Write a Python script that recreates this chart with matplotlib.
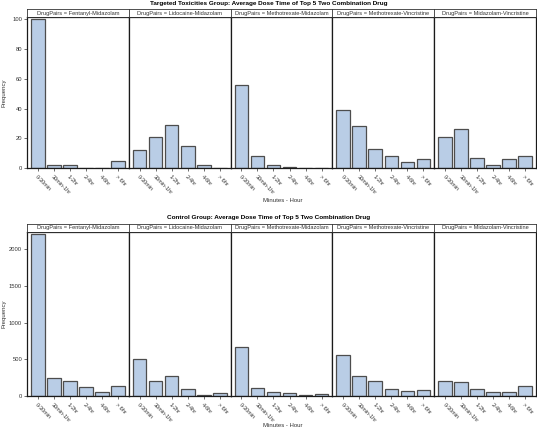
import numpy as np
import matplotlib.pyplot as plt

plt.rcParams["font.family"] = ["Liberation Sans", "DejaVu Sans"]

# categories and panels
bins = ["0-30min", "30min-1hr", "1-2hr", "2-4hr", "4-6hr", "> 6hr"]
pairs = ["Fentanyl-Midazolam", "Lidocaine-Midazolam", "Methotrexate-Midazolam",
         "Methotrexate-Vincristine", "Midazolam-Vincristine"]

# Targeted toxicities group frequencies (one list per drug pair)
tox_fent_mid = [100, 2, 2, 0, 0, 5]
tox_lido_mid = [12, 21, 29, 15, 2, 0]
tox_mtx_mid = [56, 8, 2, 1, 0, 0]
tox_mtx_vin = [39, 28, 13, 8, 4, 6]
tox_mid_vin = [21, 26, 7, 2, 6, 8]

# Control group frequencies
ctl_fent_mid = [2210, 250, 210, 118, 50, 141]
ctl_lido_mid = [500, 209, 277, 91, 18, 36]
ctl_mtx_mid = [663, 109, 58, 36, 14, 23]
ctl_mtx_vin = [564, 268, 209, 100, 64, 82]
ctl_mid_vin = [200, 186, 100, 55, 59, 136]

tox = [tox_fent_mid, tox_lido_mid, tox_mtx_mid, tox_mtx_vin, tox_mid_vin]
ctl = [ctl_fent_mid, ctl_lido_mid, ctl_mtx_mid, ctl_mtx_vin, ctl_mid_vin]

W, H = 537, 428
fig = plt.figure(figsize=(W / 100, H / 100), dpi=100)

bar_fill = "#B9CDE6"
bar_edge = "#4d4d4d"


def px_axes(x0, y0, x1, y1):
    # pixel box (top-left origin) -> figure axes
    return fig.add_axes([x0 / W, 1 - y1 / H, (x1 - x0) / W, (y1 - y0) / H])


def draw_group(data, title, y_title, y_strip, y_top, y_bot, ymax, yticks, y_xlabel):
    left, right = 27, 536
    pw = (right - left) / len(pairs)
    x = np.arange(len(bins))
    for i, (name, vals) in enumerate(zip(pairs, data)):
        x0 = left + i * pw
        ax = px_axes(x0, y_top, x0 + pw, y_bot)
        ax.bar(x, vals, width=0.85, color=bar_fill, edgecolor=bar_edge, linewidth=0.9)
        ax.set_xlim(-0.68, 5.68)
        ax.set_ylim(0, ymax)
        ax.set_xticks(x)
        ax.set_xticklabels(bins, rotation=-45, ha="left", va="top",
                           rotation_mode="anchor", fontsize=4, color="#333333")
        ax.tick_params(axis="x", length=2, width=0.5, pad=2.5, colors="#333333")
        if i == 0:
            ax.set_yticks(yticks)
            ax.set_yticklabels([str(t) for t in yticks], fontsize=4.2, color="#333333")
            ax.tick_params(axis="y", length=2, width=0.5, pad=1.5, colors="#333333")
        else:
            ax.set_yticks([])
        for s in ax.spines.values():
            s.set_linewidth(0.9)
            s.set_color("#1a1a1a")
        # strip header
        sx = px_axes(x0, y_strip, x0 + pw, y_top)
        sx.set_xticks([])
        sx.set_yticks([])
        for s in sx.spines.values():
            s.set_linewidth(0.6)
            s.set_color("#333333")
        sx.text(0.5, 0.5, "DrugPairs = " + name, ha="center", va="center",
                fontsize=4.1, color="#333333", transform=sx.transAxes)
    fig.text(0.5, 1 - y_title / H, title, ha="center", va="center",
             fontsize=4.6, fontweight="bold")
    fig.text(283 / W, 1 - y_xlabel / H, "Minutes - Hour", ha="center", va="center",
             fontsize=4.3, color="#333333")
    fig.text(4 / W, 1 - (y_top + y_bot) / 2 / H, "Frequency", ha="center", va="center",
             rotation=90, fontsize=4.3, color="#333333")


draw_group(tox, "Targeted Toxicities Group: Average Dose Time of Top 5 Two Combination Drug",
           3.5, 9, 17, 168, 101.6, [0, 20, 40, 60, 80, 100], 200)
draw_group(ctl, "Control Group: Average Dose Time of Top 5 Two Combination Drug",
           217.5, 224, 232, 396, 2232, [0, 500, 1000, 1500, 2000], 425.5)

fig.savefig("out.png", dpi=100)
